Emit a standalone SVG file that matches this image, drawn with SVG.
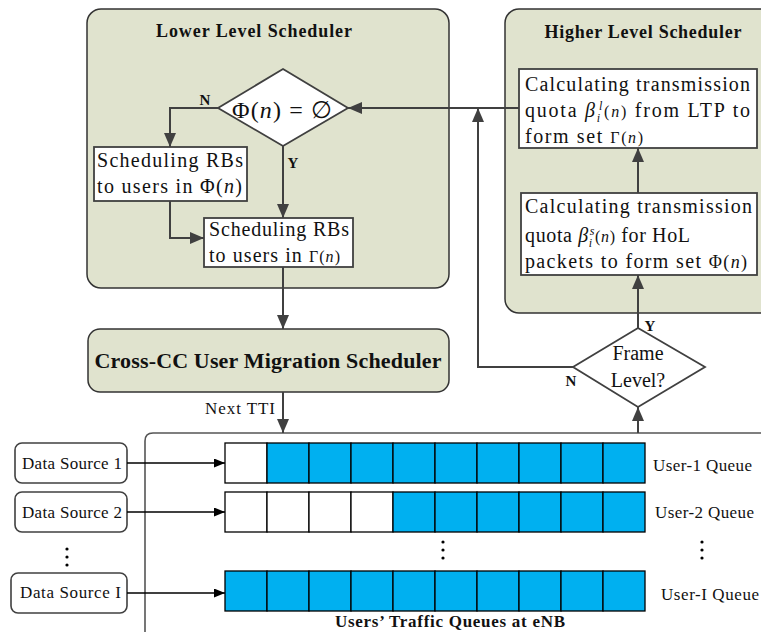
<svg xmlns="http://www.w3.org/2000/svg" width="761" height="632" viewBox="0 0 761 632">
<style>
text{font-family:"Liberation Serif","Times New Roman",serif;fill:#111}
.b{font-weight:bold}
.panel{fill:#E0E3CE;stroke:#333;stroke-width:1.5}
.box{fill:#fff;stroke:#404040;stroke-width:1.8}
.ds{fill:#fff;stroke:#404040;stroke-width:1.6}
.fl{fill:none;stroke:#404040;stroke-width:2}
.bl{fill:none;stroke:#000;stroke-width:1.5}
.w{fill:#fff;stroke:#000;stroke-width:1.3}
.q{fill:#00B0F0;stroke:#000;stroke-width:1.3}
.t19{font-size:20px}
</style>
<defs>
<marker id="ah" viewBox="0 0 14 12" refX="14" refY="6" markerWidth="14" markerHeight="12" markerUnits="userSpaceOnUse" orient="auto"><path d="M0,0 L14,6 L0,12 z" fill="#404040"/></marker>
<marker id="ak" viewBox="0 0 11 9" refX="11" refY="4.5" markerWidth="11" markerHeight="9" markerUnits="userSpaceOnUse" orient="auto"><path d="M0,0 L11,4.5 L0,9 z" fill="#000"/></marker>
</defs>

<g id="lower-panel">
<rect class="panel" x="87" y="9" width="362" height="279" rx="14"/>
<text class="b" x="254" y="37" font-size="18" text-anchor="middle" textLength="196" lengthAdjust="spacing">Lower Level Scheduler</text>
</g>
<g id="higher-panel">
<rect class="panel" x="505" y="9" width="280" height="304" rx="14"/>
<text class="b" x="643" y="38" font-size="18" text-anchor="middle" textLength="197" lengthAdjust="spacing">Higher Level Scheduler</text>
</g>

<g id="decision-phi">
<polygon class="box" points="283,69 348,108 283,146 218,108"/>
<text x="232" y="118" font-size="24" textLength="100" lengthAdjust="spacing">Φ(<tspan font-style="italic">n</tspan>) = ∅</text>
</g>

<g id="sched-phi">
<rect class="box" x="94" y="147" width="153" height="54"/>
<text class="t19" x="97" y="167" textLength="146" lengthAdjust="spacing">Scheduling RBs</text>
<text class="t19" x="97" y="193" textLength="145" lengthAdjust="spacing">to users in  Φ(<tspan font-style="italic">n</tspan>)</text>
</g>

<g id="sched-gamma">
<rect class="box" x="204" y="218" width="149" height="49"/>
<text class="t19" x="209" y="236" textLength="140" lengthAdjust="spacing">Scheduling RBs</text>
<text class="t19" x="209" y="262" textLength="131" lengthAdjust="spacing">to users in <tspan font-size="16">Γ(<tspan font-style="italic">n</tspan>)</tspan></text>
</g>

<g id="calc-ltp">
<rect class="box" x="519" y="69" width="238" height="79"/>
<text class="t19" x="525" y="91" textLength="225" lengthAdjust="spacing">Calculating transmission</text>
<text class="t19" x="525" y="117" textLength="225" lengthAdjust="spacing">quota  <tspan font-style="italic">β</tspan><tspan font-size="12" font-style="italic" dy="5">i</tspan><tspan font-size="12" font-style="italic" dx="-3" dy="-12">l</tspan><tspan font-size="16" dy="7">(<tspan font-style="italic">n</tspan>)</tspan> from LTP to</text>
<text class="t19" x="525" y="143" textLength="118" lengthAdjust="spacing">form  set  <tspan font-size="16">Γ(<tspan font-style="italic">n</tspan>)</tspan></text>
</g>

<g id="calc-hol">
<rect class="box" x="521" y="193" width="236" height="82"/>
<text class="t19" x="525" y="213" textLength="227" lengthAdjust="spacing">Calculating  transmission</text>
<text class="t19" x="525" y="242" textLength="165" lengthAdjust="spacing">quota <tspan font-style="italic">β</tspan><tspan font-size="12" font-style="italic" dy="5">i</tspan><tspan font-size="12" font-style="italic" dx="-3" dy="-12">s</tspan><tspan font-size="16" dy="7">(<tspan font-style="italic">n</tspan>)</tspan> for HoL</text>
<text class="t19" x="525" y="268" textLength="222" lengthAdjust="spacing">packets to form set <tspan font-size="18">Φ(<tspan font-style="italic">n</tspan>)</tspan></text>
</g>

<g id="frame-level">
<polygon class="box" points="638,328 705,367 638,407 573,367"/>
<text x="638" y="360" font-size="20" text-anchor="middle">Frame</text>
<text x="638" y="387" font-size="20" text-anchor="middle">Level?</text>
</g>

<g id="cross-cc">
<rect class="panel" x="88" y="329" width="361" height="63" rx="12"/>
<text class="b" x="268" y="368" font-size="22" text-anchor="middle" textLength="347" lengthAdjust="spacing">Cross-CC User Migration Scheduler</text>
</g>

<g id="queues-panel">
<path d="M145,640 V441 Q145,433 153,433 H770" fill="none" stroke="#555" stroke-width="1.6"/>
<text class="b" x="450" y="627" font-size="17" text-anchor="middle" textLength="230" lengthAdjust="spacing">Users’ Traffic Queues at eNB</text>
</g>

<g id="queue-1">
<rect class="w" x="225" y="443" width="42" height="40"/>
<rect class="q" x="267" y="443" width="42" height="40"/><rect class="q" x="309" y="443" width="42" height="40"/><rect class="q" x="351" y="443" width="42" height="40"/><rect class="q" x="393" y="443" width="42" height="40"/><rect class="q" x="435" y="443" width="42" height="40"/><rect class="q" x="477" y="443" width="42" height="40"/><rect class="q" x="519" y="443" width="42" height="40"/><rect class="q" x="561" y="443" width="42" height="40"/><rect class="q" x="603" y="443" width="42" height="40"/>
<text x="653" y="471" font-size="17" textLength="99" lengthAdjust="spacing">User-1 Queue</text>
</g>
<g id="queue-2">
<rect class="w" x="225" y="492" width="42" height="40"/><rect class="w" x="267" y="492" width="42" height="40"/><rect class="w" x="309" y="492" width="42" height="40"/><rect class="w" x="351" y="492" width="42" height="40"/>
<rect class="q" x="393" y="492" width="42" height="40"/><rect class="q" x="435" y="492" width="42" height="40"/><rect class="q" x="477" y="492" width="42" height="40"/><rect class="q" x="519" y="492" width="42" height="40"/><rect class="q" x="561" y="492" width="42" height="40"/><rect class="q" x="603" y="492" width="42" height="40"/>
<text x="655" y="518" font-size="17" textLength="99" lengthAdjust="spacing">User-2 Queue</text>
</g>
<g id="queue-I">
<rect class="q" x="225" y="571" width="42" height="40"/><rect class="q" x="267" y="571" width="42" height="40"/><rect class="q" x="309" y="571" width="42" height="40"/><rect class="q" x="351" y="571" width="42" height="40"/><rect class="q" x="393" y="571" width="42" height="40"/><rect class="q" x="435" y="571" width="42" height="40"/><rect class="q" x="477" y="571" width="42" height="40"/><rect class="q" x="519" y="571" width="42" height="40"/><rect class="q" x="561" y="571" width="42" height="40"/><rect class="q" x="603" y="571" width="42" height="40"/>
<text x="661" y="600" font-size="17" textLength="98" lengthAdjust="spacing">User-I Queue</text>
</g>

<g id="data-source-1">
<rect class="ds" x="15" y="443" width="112" height="40" rx="7"/>
<text x="22" y="469" font-size="17" textLength="100" lengthAdjust="spacing">Data Source 1</text>
</g>
<g id="data-source-2">
<rect class="ds" x="15" y="492" width="112" height="40" rx="7"/>
<text x="22" y="518" font-size="17" textLength="100" lengthAdjust="spacing">Data Source 2</text>
</g>
<g id="data-source-I">
<rect class="ds" x="11" y="573" width="116" height="40" rx="7"/>
<text x="20" y="598" font-size="17" textLength="101" lengthAdjust="spacing">Data Source I</text>
</g>

<g id="ellipses" fill="#000">
<circle cx="67" cy="549" r="1.6"/><circle cx="67" cy="557" r="1.6"/><circle cx="67" cy="565" r="1.6"/>
<circle cx="443" cy="542" r="1.6"/><circle cx="443" cy="550" r="1.6"/><circle cx="443" cy="558" r="1.6"/>
<circle cx="702" cy="542" r="1.6"/><circle cx="702" cy="550" r="1.6"/><circle cx="702" cy="558" r="1.6"/>
</g>

<g id="connectors">
<path class="fl" d="M519,108 H348" marker-end="url(#ah)"/>
<path class="fl" d="M573,367 H478 V108" marker-end="url(#ah)"/>
<path class="fl" d="M218,108 H170 V147" marker-end="url(#ah)"/>
<path class="fl" d="M283,146 V218" marker-end="url(#ah)"/>
<path class="fl" d="M170,201 V238 H204" marker-end="url(#ah)"/>
<path class="fl" d="M283,267 V329" marker-end="url(#ah)"/>
<path class="fl" d="M283,392 V433" marker-end="url(#ah)"/>
<path class="fl" d="M638,433 V407" marker-end="url(#ah)"/>
<path class="fl" d="M638,328 V275" marker-end="url(#ah)"/>
<path class="fl" d="M638,193 V148" marker-end="url(#ah)"/>
<path class="bl" d="M127,463 H225" marker-end="url(#ak)"/>
<path class="bl" d="M127,512 H225" marker-end="url(#ak)"/>
<path class="bl" d="M127,593 H225" marker-end="url(#ak)"/>
<text class="b" x="205" y="105" font-size="15" text-anchor="middle">N</text>
<text class="b" x="293" y="168" font-size="15" text-anchor="middle">Y</text>
<text class="b" x="650" y="331" font-size="15" text-anchor="middle">Y</text>
<text class="b" x="571" y="386" font-size="15" text-anchor="middle">N</text>
<text x="240" y="414" font-size="17" text-anchor="middle" textLength="70" lengthAdjust="spacing">Next TTI</text>
</g>
</svg>
